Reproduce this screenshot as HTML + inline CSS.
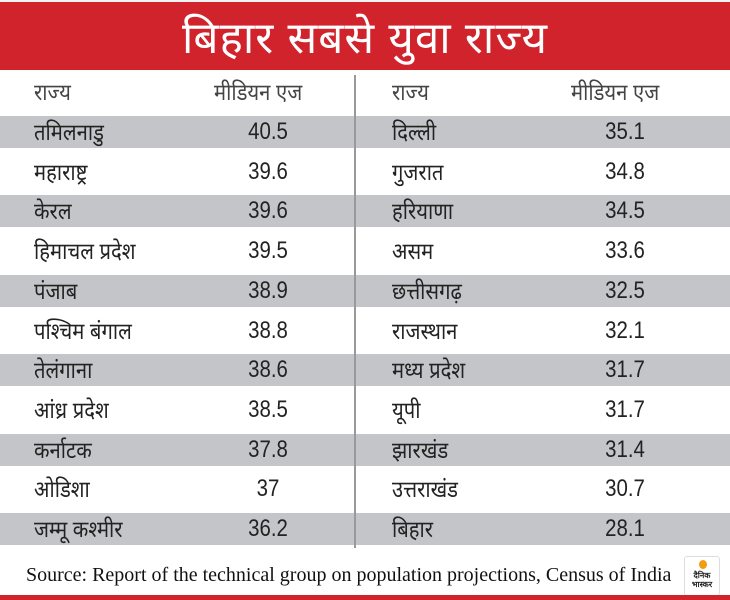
<!DOCTYPE html>
<html><head><meta charset="utf-8"><style>
*{margin:0;padding:0;box-sizing:border-box}
body{width:730px;height:600px;background:#fff;position:relative;overflow:hidden;font-family:"Liberation Sans","Noto Sans CJK SC",sans-serif;color:#222}
.hdr{position:absolute;left:0;top:0;width:730px;height:70px;background:#d0232c;border-top:2px solid #f2f2f2}
.title{position:absolute;left:0;width:730px;top:6px;text-align:center;color:#fff;font-size:44px;font-weight:normal;letter-spacing:1px}
.gray{position:absolute;left:0;width:730px;height:32px;background:#c3c5c8}
.t{position:absolute;font-size:23px;line-height:32px;white-space:nowrap;transform:scaleX(0.88);transform-origin:left center}
.v{position:absolute;font-size:24px;line-height:32px;width:100px;text-align:center;transform:scaleX(0.85)}
.div{position:absolute;left:354px;top:75px;width:2px;height:473px;background:#999}
.src{position:absolute;left:26px;top:564px;font-family:"Liberation Serif",serif;font-size:20px;color:#111;white-space:nowrap}
.bot{position:absolute;left:0;top:595px;width:730px;height:5px;background:#d0232c}
.logo{position:absolute;left:684px;top:556px;width:36px;height:40px;border:1px solid #ddd;border-radius:3px;background:#fff;font-size:8px;text-align:center;font-weight:bold;line-height:9px;padding-top:14px}
.logo:before{content:"";position:absolute;left:14px;top:3px;width:8px;height:9px;border-radius:50%;background:#f39c12}
</style></head><body>
<div class="hdr"></div>
<div class="title">बिहार सबसे युवा राज्य</div>
<div class="t" style="left:34px;top:76px;color:#444">राज्य</div>
<div class="t" style="left:214px;top:76px;color:#444">मीडियन एज</div>
<div class="t" style="left:392px;top:76px;color:#444">राज्य</div>
<div class="t" style="left:571px;top:76px;color:#444">मीडियन एज</div>
<div class="gray" style="top:116px"></div>
<div class="gray" style="top:195px"></div>
<div class="gray" style="top:275px"></div>
<div class="gray" style="top:354px"></div>
<div class="gray" style="top:434px"></div>
<div class="gray" style="top:513px"></div>
<div class="div"></div>
<div id="rows"></div>
<script>
var L=[["तमिलनाडु","40.5"],["महाराष्ट्र","39.6"],["केरल","39.6"],["हिमाचल प्रदेश","39.5"],["पंजाब","38.9"],["पश्चिम बंगाल","38.8"],["तेलंगाना","38.6"],["आंध्र प्रदेश","38.5"],["कर्नाटक","37.8"],["ओडिशा","37"],["जम्मू कश्मीर","36.2"]];
var R=[["दिल्ली","35.1"],["गुजरात","34.8"],["हरियाणा","34.5"],["असम","33.6"],["छत्तीसगढ़","32.5"],["राजस्थान","32.1"],["मध्य प्रदेश","31.7"],["यूपी","31.7"],["झारखंड","31.4"],["उत्तराखंड","30.7"],["बिहार","28.1"]];
var h="";
for(var i=0;i<11;i++){var y=116+i*39.7;
h+='<div class="t" style="left:34px;top:'+y+'px">'+L[i][0]+'</div><div class="v" style="left:218px;top:'+y+'px">'+L[i][1]+'</div>';
h+='<div class="t" style="left:392px;top:'+y+'px">'+R[i][0]+'</div><div class="v" style="left:575px;top:'+y+'px">'+R[i][1]+'</div>';}
document.getElementById("rows").innerHTML=h;
</script>
<div class="src">Source: Report of the technical group on population projections, Census of India</div>
<div class="logo">दैनिक<br>भास्कर</div>
<div class="bot"></div>
</body></html>
